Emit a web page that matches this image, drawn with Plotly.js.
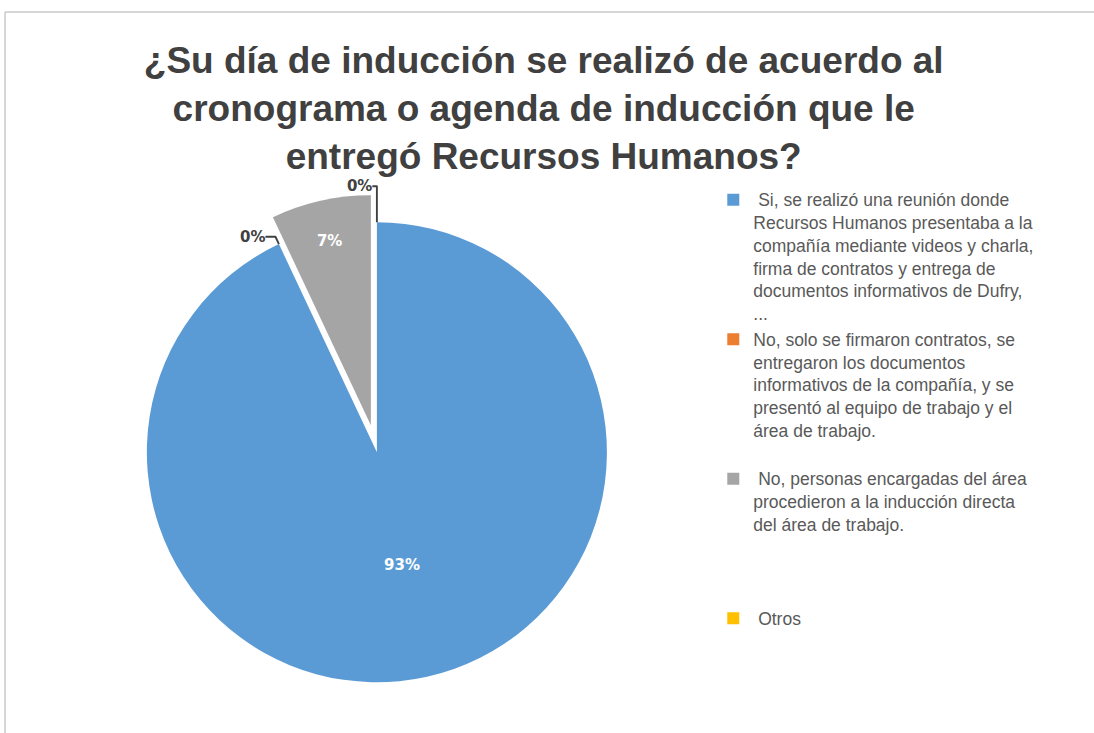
<!DOCTYPE html>
<html>
<head>
<meta charset="utf-8">
<script src="https://cdn.plot.ly/plotly-3.0.1.min.js"></script>
<style>
html,body{margin:0;padding:0;background:#fff;}
#chart{width:1094px;height:733px;}
</style>
</head>
<body>
<div id="chart"></div>
<script>
var categories = [
  " Si, se realizó una reunión donde<br>Recursos Humanos presentaba a la<br>compañía mediante videos y charla,<br>firma de contratos y entrega de<br>documentos informativos de Dufry,<br>...",
  "No, solo se firmaron contratos, se<br>entregaron los documentos<br>informativos de la compañía, y se<br>presentó al equipo de trabajo y el<br>área de trabajo.<br> ",
  " No, personas encargadas del área<br>procedieron a la inducción directa<br>del área de trabajo.<br> <br> <br> ",
  " Otros"
];
var percentValues = [93, 0, 7, 0];
var sliceColors = ["#5B9BD5", "#ED7D31", "#A5A5A5", "#FFC000"];
var pulls = [0, 0, 0.12, 0];
var labelPositions = ["inside", "outside", "inside", "outside"];

var data = [{
  type: "pie",
  labels: categories,
  values: percentValues,
  sort: false,
  direction: "clockwise",
  rotation: 0,
  pull: pulls,
  marker: {colors: sliceColors, line: {width: 0}},
  texttemplate: "%{percent:.0%}",
  textposition: labelPositions,
  insidetextorientation: "horizontal",
  insidetextfont: {family: "DejaVu Sans, Arial, sans-serif", size: 15, color: "#ffffff", weight: "bold"},
  outsidetextfont: {family: "DejaVu Sans, Arial, sans-serif", size: 15, color: "#404040", weight: "bold"},
  hoverinfo: "label+percent",
  domain: {x: [0.109, 0.580], y: [0.031, 0.735]},
  showlegend: true
}];

var layout = {
  width: 1094,
  height: 733,
  margin: {l: 0, r: 0, t: 0, b: 0},
  paper_bgcolor: "#ffffff",
  title: {
    text: "¿Su día de inducción se realizó de acuerdo al<br>cronograma o agenda de inducción que le<br>entregó Recursos Humanos?",
    font: {family: "Liberation Sans, Arial, sans-serif", size: 37, color: "#404040", weight: "bold"},
    x: 0.497,
    xanchor: "center",
    y: 0.901,
    yanchor: "top"
  },
  legend: {
    x: 0.652,
    xanchor: "left",
    y: 0.752,
    yanchor: "top",
    valign: "top",
    font: {family: "Liberation Sans, Arial, sans-serif", size: 17.5, color: "#595959"},
    itemwidth: 30,
    bgcolor: "rgba(0,0,0,0)"
  },
  shapes: [
    {type: "line", xref: "paper", yref: "paper", x0: 5/1094, x1: 1.01, y0: 1 - 12/733, y1: 1 - 12/733, line: {color: "#c8c8c8", width: 1.5}},
    {type: "line", xref: "paper", yref: "paper", x0: 5/1094, x1: 5/1094, y0: 1 - 12/733, y1: -0.01, line: {color: "#c8c8c8", width: 1.5}}
  ]
};

Plotly.newPlot("chart", data, layout, {displayModeBar: false});
</script>
</body>
</html>
